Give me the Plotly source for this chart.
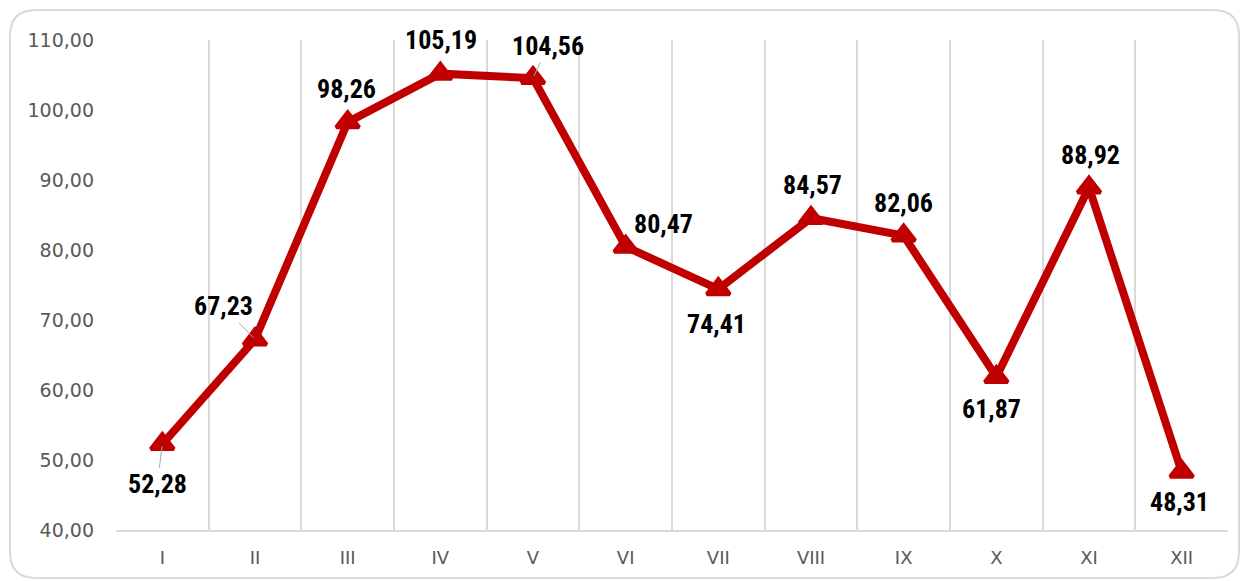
import plotly.graph_objects as go

months = ["I", "II", "III", "IV", "V", "VI", "VII", "VIII", "IX", "X", "XI", "XII"]
values = [52.28, 67.23, 98.26, 105.19, 104.56, 80.47, 74.41, 84.57, 82.06, 61.87, 88.92, 48.31]
label_offsets = [(-5, 40), (-32, -33), (-1, -33), (1, -34), (15, -32), (38, -23),
                 (-2, 35), (1, -33), (0, -33), (-5, 32), (1, -33), (-2, 30)]
leader = [True, True, False, False, True, False, False, False, False, False, False, False]

RED = "#C00000"

W, H = 1240, 573
ML, MR, MT, MB = 108, 20, 32, 51
PW, PH = W - ML - MR, H - MT - MB

fig = go.Figure()
fig.add_trace(go.Scatter(
    x=months, y=values, mode="lines+markers",
    line=dict(color=RED, width=8),
    marker=dict(symbol="triangle-up", size=20, color=RED,
                line=dict(color=RED, width=4)),
    hoverinfo="skip", showlegend=False,
))

for m, v, (dx, dy), ld in zip(months, values, label_offsets, leader):
    txt = f"{v:.2f}".replace(".", ",")
    fig.add_annotation(
        x=m, y=v, text=f"<b>{txt}</b>", showarrow=True,
        ax=dx, ay=dy, axref="pixel", ayref="pixel",
        arrowhead=0, arrowwidth=1,
        arrowcolor="#A6A6A6" if ld else "rgba(0,0,0,0)",
        standoff=2, startstandoff=0,
        font=dict(family="Liberation Sans Narrow, Arial Narrow, Roboto Condensed, Roboto", size=26, color="#000000"),
    )

# rounded chart border (pixel -> paper conversion)
def px(xp):
    return (xp - ML) / PW

def py(yp):
    return (H - MB - yp) / PH

x0, x1, y0, y1, r = 2, 1231, 2, 570, 26
path = (
    f"M {px(x0 + r)},{py(y1)} Q {px(x0)},{py(y1)} {px(x0)},{py(y1 - r)} "
    f"L {px(x0)},{py(y0 + r)} Q {px(x0)},{py(y0)} {px(x0 + r)},{py(y0)} "
    f"L {px(x1 - r)},{py(y0)} Q {px(x1)},{py(y0)} {px(x1)},{py(y0 + r)} "
    f"L {px(x1)},{py(y1 - r)} Q {px(x1)},{py(y1)} {px(x1 - r)},{py(y1)} Z"
)
fig.add_shape(type="path", xref="paper", yref="paper", path=path,
              line=dict(color="#D9D9D9", width=2), layer="below")

fig.update_layout(
    width=W, height=H,
    margin=dict(l=ML, r=MR, t=MT, b=MB),
    paper_bgcolor="white", plot_bgcolor="white",
    separators=",.",
    xaxis=dict(
        type="category", tickson="boundaries", showgrid=True,
        gridcolor="#D9D9D9", gridwidth=2,
        showline=True, linecolor="#D9D9D9", linewidth=2,
        ticks="", tickfont=dict(family="DejaVu Sans", size=18, color="#595959"),
        ticklabelstandoff=10,
        range=[-0.5, 11.5],
    ),
    yaxis=dict(
        range=[40, 110], dtick=10, tickformat=".2f",
        showgrid=False, zeroline=False, showline=False,
        tickfont=dict(family="DejaVu Sans", size=19, color="#595959"),
        ticklabelstandoff=21,
    ),
)

fig.write_html("out.html")
